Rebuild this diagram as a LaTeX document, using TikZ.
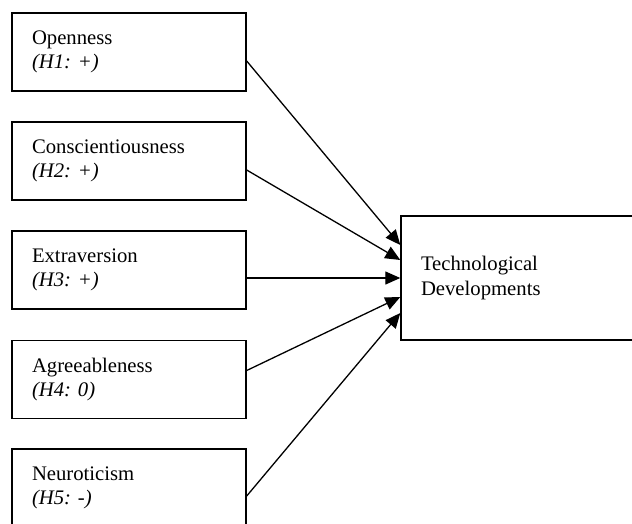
\documentclass[tikz,border=0pt]{standalone}
\usepackage{fontspec}
\setmainfont{Liberation Serif}
\frenchspacing
\usetikzlibrary{arrows.meta}
\begin{document}
\begin{tikzpicture}[
  trait/.style={draw, line width=1.4pt, minimum width=234pt, minimum height=78pt,
    text width=194pt, inner xsep=20pt, inner ysep=0pt, align=left,
    font=\fontsize{20.7pt}{23.5pt}\selectfont\frenchspacing},
  target/.style={draw, line width=1.4pt, minimum width=240pt, minimum height=124pt,
    text width=200pt, inner xsep=20pt, inner ysep=0pt, align=left,
    font=\fontsize{20.7pt}{24.5pt}\selectfont},
  link/.style={line width=1.3pt, -{Triangle[length=15pt,width=13pt]}}
]
\useasboundingbox (0pt,0pt) rectangle (632pt,-523pt);
\clip (0pt,0pt) rectangle (632pt,-523pt);
\node[trait] (b1) at (129pt,-52pt) {Openness\\\textit{(H1: +)}};
\node[trait] (b2) at (129pt,-161pt) {Conscientiousness\\\textit{(H2: +)}};
\node[trait] (b3) at (129pt,-270pt) {Extraversion\\\textit{(H3: +)}};
\node[trait] (b4) at (129pt,-379.5pt) {Agreeableness\\\textit{(H4: 0)}};
\node[trait] (b5) at (129pt,-488pt) {Neuroticism\\\textit{(H5: -)}};
\node[target] (t) at (521pt,-278pt) {Technological\\Developments};
\draw[link] ([yshift=-9pt]b1.east) -- ([yshift=33pt]t.west);
\draw[link] ([yshift=-9pt]b2.east) -- ([yshift=18pt]t.west);
\draw[link] ([yshift=-8pt]b3.east) -- ([yshift=0pt]t.west);
\draw[link] ([yshift=9pt]b4.east) -- ([yshift=-19pt]t.west);
\draw[link] ([yshift=-8pt]b5.east) -- ([yshift=-35pt]t.west);
\end{tikzpicture}
\end{document}
